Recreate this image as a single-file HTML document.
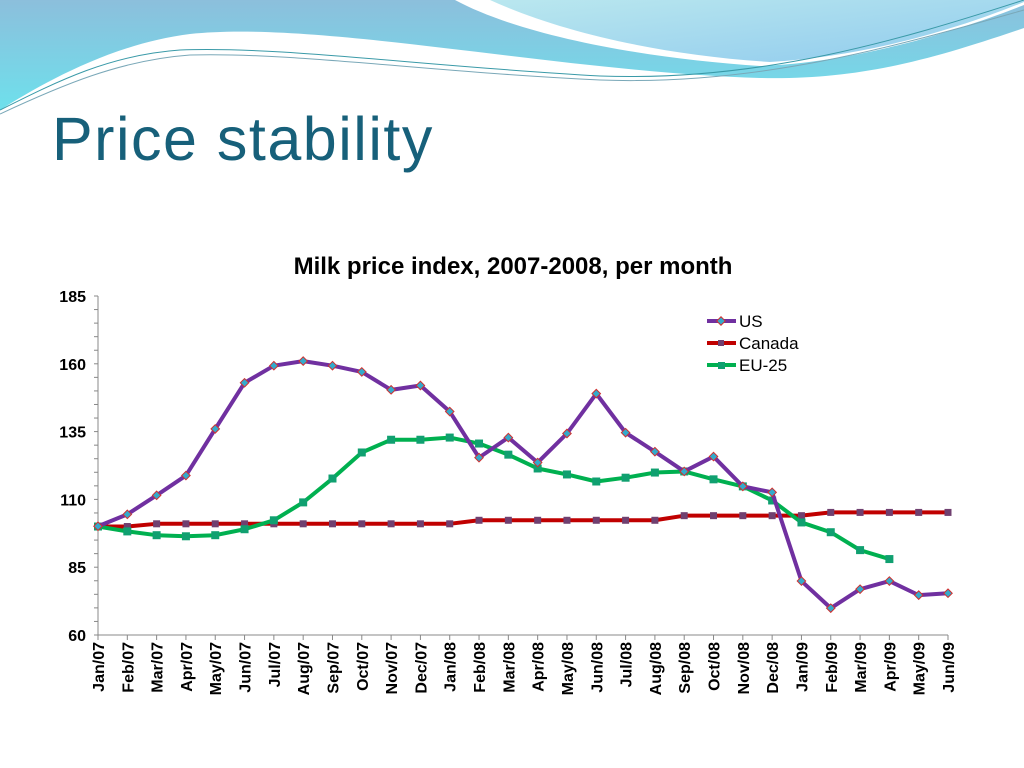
<!DOCTYPE html>
<html><head><meta charset="utf-8"><style>
html,body{margin:0;padding:0;background:#fff;}
body{width:1024px;height:768px;position:relative;overflow:hidden;font-family:"Liberation Sans",sans-serif;}
#title{position:absolute;left:52px;top:104px;font-size:61px;color:#17607a;margin:0;font-weight:normal;letter-spacing:1.5px;}
</style></head><body>
<svg width="1024" height="130" style="position:absolute;left:0;top:0">
<defs>
<linearGradient id="g1" x1="0" y1="0" x2="0" y2="1"><stop offset="0" stop-color="#8cbfdc"/><stop offset="1" stop-color="#6ee0ec"/></linearGradient>
<linearGradient id="g2" x1="0" y1="0" x2="1" y2="1"><stop offset="0" stop-color="#b6e6ee"/><stop offset="1" stop-color="#8ac8ec"/></linearGradient>
</defs>
<path d="M0,0 L1024,0 L1024,28 C930,60 860,80 760,78 C560,72 320,20 190,34 C110,44 40,85 0,110 Z" fill="url(#g1)"/>
<path d="M455,0 C520,35 640,58 760,66 C860,62 960,30 1024,5 L1024,0 Z" fill="#fff"/>
<path d="M490,0 C560,32 660,55 770,62 C870,56 960,28 1024,2 L1024,0 Z" fill="url(#g2)" opacity="0.95"/>
<path d="M0,110 C60,80 110,55 180,50 C280,46 420,66 600,76 C760,82 900,40 1024,0" fill="none" stroke="#3a9aa8" stroke-width="1"/>
<path d="M0,114 C60,86 120,60 190,55 C290,52 430,72 600,80 C760,86 900,45 1024,10" fill="none" stroke="#7aa8b8" stroke-width="1"/>
</svg>
<h1 id="title">Price stability</h1>
<svg id="chart" width="1024" height="768" style="position:absolute;left:0;top:0">
<text x="513" y="274" text-anchor="middle" font-size="24" font-weight="bold" font-family="Liberation Sans, sans-serif">Milk price index, 2007-2008, per month</text>
<g id="axes"></g><g id="series"></g>
<g font-size="17" font-family="Liberation Sans, sans-serif">
<line x1="707" y1="321" x2="736" y2="321" stroke="#7030a0" stroke-width="4"/><rect x="718" y="318" width="6" height="6" transform="rotate(45 721 321)" fill="#33aacc" stroke="#d03030"/>
<text x="739" y="327">US</text>
<line x1="707" y1="343" x2="736" y2="343" stroke="#c00000" stroke-width="4"/><rect x="718" y="340" width="6" height="6" fill="#704070"/>
<text x="739" y="349">Canada</text>
<line x1="707" y1="365" x2="736" y2="365" stroke="#00b050" stroke-width="4"/><rect x="718" y="362" width="7" height="7" fill="#10a070"/>
<text x="739" y="371">EU-25</text>
</g>
</svg>
<script>
const categories=["Jan/07","Feb/07","Mar/07","Apr/07","May/07","Jun/07","Jul/07","Aug/07","Sep/07","Oct/07","Nov/07","Dec/07","Jan/08","Feb/08","Mar/08","Apr/08","May/08","Jun/08","Jul/08","Aug/08","Sep/08","Oct/08","Nov/08","Dec/08","Jan/09","Feb/09","Mar/09","Apr/09","May/09","Jun/09"];
const usValues=[100.1,104.5,111.5,118.8,136,153,159.3,161,159.3,157,150.4,152,142.4,125.4,132.8,123.6,134.3,149,134.6,127.6,120.3,125.8,114.8,112.6,79.9,69.9,76.9,79.9,74.7,75.4];
const canadaValues=[100,100,101,101,101,101,101,101,101,101,101,101,101,102.3,102.3,102.3,102.3,102.3,102.3,102.3,104,104,104,104,104,105.2,105.2,105.2,105.2,105.2];
const euValues=[100,98.2,96.8,96.4,96.8,99,102.3,108.9,117.7,127.3,132,132,132.8,130.6,126.5,121.4,119.2,116.6,118,119.9,120.3,117.4,114.8,109.6,101.5,97.9,91.3,88,null,null];
const yTicks=[60,85,110,135,160,185];
const NS="http://www.w3.org/2000/svg";
const X0=98,X1=948,YT=296,YB=635,YMIN=60,YMAX=185;
function xs(i){return X0+i*(X1-X0)/(categories.length-1);}
function ys(v){return YB-(v-YMIN)/(YMAX-YMIN)*(YB-YT);}
function mk(tag,attrs,parent){const e=document.createElementNS(NS,tag);for(const k in attrs)e.setAttribute(k,attrs[k]);parent.appendChild(e);return e;}
const axes=document.getElementById('axes'),ser=document.getElementById('series');
let a=mk('line',{x1:X0,y1:YT,x2:X0,y2:YB,stroke:'#888'},axes);


a=mk('line',{x1:X0,y1:YB,x2:X1,y2:YB,stroke:'#888'},axes);


for(let v=YMIN;v<=YMAX;v+=5){mk('line',{x1:X0-4,y1:ys(v),x2:X0,y2:ys(v),stroke:'#888'},axes);}
yTicks.forEach(v=>{const t=mk('text',{x:X0-12,y:ys(v)+6,'text-anchor':'end','font-size':16,'font-weight':'bold','font-family':'Liberation Sans, sans-serif'},axes);t.textContent=v;

});
categories.forEach((c,i)=>{mk('line',{x1:xs(i),y1:YB,x2:xs(i),y2:YB+5,stroke:'#888'},axes);
const t=mk('text',{x:0,y:0,'text-anchor':'end','font-size':16,'font-weight':'bold','font-family':'Liberation Sans, sans-serif',transform:`translate(${xs(i)+6},${YB+7}) rotate(-90)`},axes);t.textContent=c;

});
function series(vals,color,name,marker){
  let d='';vals.forEach((v,i)=>{if(v==null)return;d+=(d?'L':'M')+xs(i)+','+ys(v);});
  const p=mk('path',{d:d,fill:'none',stroke:color,'stroke-width':4,'stroke-linejoin':'round'},ser);
  
  
  vals.forEach((v,i)=>{if(v==null)return;let m;
    if(marker==='d'){m=mk('rect',{x:xs(i)-3,y:ys(v)-3,width:6,height:6,fill:'#33aacc',stroke:'#d03030','stroke-width':1,transform:`rotate(45 ${xs(i)} ${ys(v)})`},ser);}
    else if(marker==='c'){m=mk('rect',{x:xs(i)-3.5,y:ys(v)-3.5,width:7,height:7,fill:'#704070'},ser);}
    else{m=mk('rect',{x:xs(i)-4,y:ys(v)-4,width:8,height:8,fill:'#10a070'},ser);}
    
    });
}
series(canadaValues,'#c00000','canada','c');
series(euValues,'#00b050','eu25','e');
series(usValues,'#7030a0','us','d');
</script>
</body></html>
